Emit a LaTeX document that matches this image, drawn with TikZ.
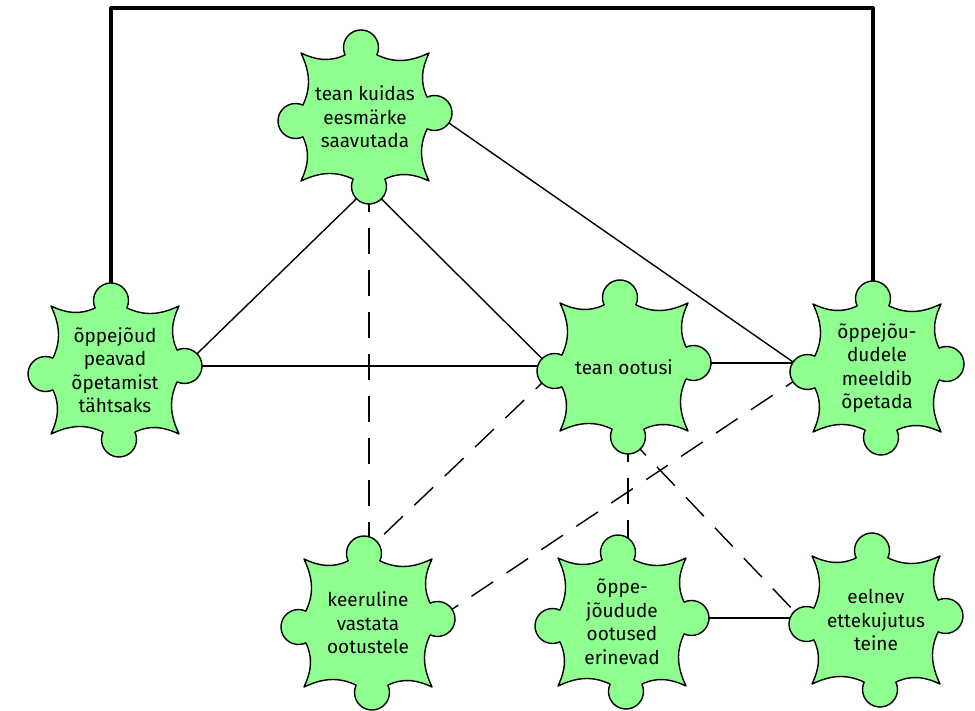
\documentclass[tikz,border=0pt]{standalone}
\usepackage{fontspec}
\setmainfont{Fira Sans}
\usepackage{xcolor}
\usetikzlibrary{calc}
\definecolor{knobgreen}{RGB}{143,255,143}
\pgfdeclarelayer{bg}
\pgfsetlayers{bg,main}
\tikzset{
  knobline/.style={draw=black, fill=knobgreen, line width=1.4pt, line join=round},
  knobtext/.style={align=center, font=\fontsize{19}{23.5}\selectfont},
  link/.style={line width=1.4pt},
  dashlink/.style={line width=1.4pt, dash pattern=on 26pt off 16pt},
  roofline/.style={line width=4pt, line join=round},
  pics/knob/.style={code={
    % body with four concave sides, one knob per side
    \path[knobline] (-64,64)
      \foreach \r [evaluate=\r as \a using \r-25, evaluate=\r as \b using \r+205] in {0,-90,-180,-270}
      { to[out=\a,in=\b] ([rotate=\r]-19.86,62.1)
        arc[start angle=\b,end angle=\a,radius=17.5]
        to[out=\a,in=\b] ([rotate=\r]64,64) } -- cycle;
    \coordinate (-n) at (-4,69.5);
    \coordinate (-e) at (69.5,4);
    \coordinate (-s) at (4,-69.5);
    \coordinate (-w) at (-69.5,-4);
    \node[knobtext] (-t) {#1};
  }}
}

\begin{document}
\begin{tikzpicture}[x=1pt,y=1pt]
\useasboundingbox (0,0) rectangle (975,710);

\pic (kuidas) at (365,593) {knob={tean kuidas\\eesmärke\\saavutada}};
\pic (peavad) at (115,340) {knob={õppejõud\\peavad\\õpetamist\\tähtsaks}};
\pic (ootusi) at (624,343) {knob={tean ootusi}};
\pic (meeldib) at (877,342) {knob={õppejõu-\\dudele\\meeldib\\õpetada}};
\pic (keeruline) at (368,87) {knob={keeruline\\vastata\\ootustele}};
\pic (erinevad) at (622,88) {knob={õppe-\\jõudude\\ootused\\erinevad}};
\pic (eelnev) at (876,90) {knob={eelnev\\ettekujutus\\teine}};

\coordinate (roof) at (0,702);

\begin{pgfonlayer}{bg}
\draw[roofline] (peavad-n) -- (peavad-n |- roof) -- (meeldib-n |- roof) -- (meeldib-n); %top frame
\draw[link] (kuidas-s) -- (peavad-e);
\draw[link] (kuidas-s) -- (ootusi-w);
\draw[link] (kuidas-e) -- (meeldib-w);
\draw[link] (peavad-e) -- (peavad-e -| ootusi-w);
\draw[link] (ootusi-e) -- (ootusi-e -| meeldib-w);
\draw[link] (erinevad-e) -- (erinevad-e -| eelnev-w);
\draw[dashlink] (kuidas-s) -- (kuidas-s |- keeruline-n);
\draw[dashlink] (ootusi-w) -- (keeruline-n);
\draw[dashlink] (meeldib-w) -- (keeruline-e);
\draw[dashlink] (ootusi-s) -- (ootusi-s |- erinevad-n);
\draw[dashlink] (ootusi-s) -- (eelnev-w);
\end{pgfonlayer}
\end{tikzpicture}
\end{document}
